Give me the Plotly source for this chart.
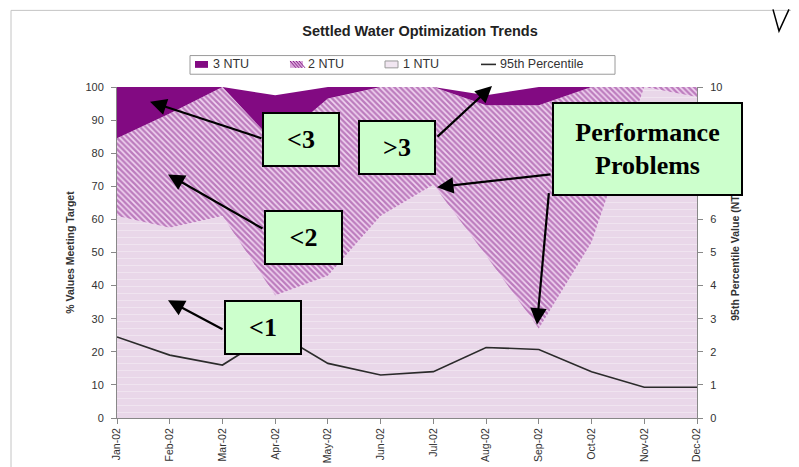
import plotly.graph_objects as go

months = ["Jan-02", "Feb-02", "Mar-02", "Apr-02", "May-02", "Jun-02",
          "Jul-02", "Aug-02", "Sep-02", "Oct-02", "Nov-02", "Dec-02"]
ntu1 = [61, 57.5, 61, 37, 43, 61, 70.5, 49, 27, 53, 100, 97]
ntu2 = [23.5, 34.5, 39, 46, 53.5, 39, 29.5, 45.5, 67.5, 47, 0, 3]
ntu3 = [15.5, 8, 0, 14.5, 3.5, 0, 0, 3, 5.5, 0, 0, 0]
p95 = [2.45, 1.9, 1.6, 2.6, 1.65, 1.3, 1.4, 2.13, 2.07, 1.4, 0.93, 0.93]
legend_labels = ["3 NTU", "2 NTU", "1 NTU", "95th Percentile"]

W, H = 799, 467
L, R, T, B = 109, 689, 79, 416

def px(x):
    return (x - L) / (R - L)

def py(y):
    return (B - y) / (B - T)

xs = list(range(len(months)))
font_sans = "Liberation Sans, Arial, sans-serif"
font_serif = "Liberation Serif, Times New Roman, serif"
DARK = "#820a82"
HATCH_FG = "#87228a"
LIGHT = "#e9d7e9"

fig = go.Figure()
fig.add_trace(go.Scatter(
    x=xs, y=ntu1, name=legend_labels[2], stackgroup="a", mode="none",
    fillcolor=LIGHT,
    fillpattern=dict(shape="-", fgcolor="rgba(255,255,255,0.75)", bgcolor=LIGHT,
                     size=7, solidity=0.12),
    showlegend=False, hoverinfo="skip"))
fig.add_trace(go.Scatter(
    x=xs, y=ntu2, name=legend_labels[1], stackgroup="a", mode="none",
    fillcolor="#c27ec2",
    fillpattern=dict(shape="\\", fgcolor=HATCH_FG, bgcolor="#f1d6f1",
                     size=4, solidity=0.6),
    showlegend=False, hoverinfo="skip"))
fig.add_trace(go.Scatter(
    x=xs, y=ntu3, name=legend_labels[0], stackgroup="a", mode="none",
    fillcolor=DARK, showlegend=False, hoverinfo="skip"))
fig.add_trace(go.Scatter(
    x=xs, y=p95, name=legend_labels[3], mode="lines", yaxis="y2",
    line=dict(color="#2b2b2b", width=1.6), showlegend=False, hoverinfo="skip"))

annotations = []
shapes = []

# outer chart border and scribble
shapes.append(dict(type="rect", xref="paper", yref="paper",
                   x0=px(3), x1=px(797), y0=py(475), y1=py(1),
                   line=dict(color="#c4c4c4", width=1), fillcolor="rgba(0,0,0,0)",
                   layer="below"))
shapes.append(dict(type="path", xref="paper", yref="paper",
                   path="M {:.4f},{:.4f} L {:.4f},{:.4f} L {:.4f},{:.4f}".format(
                       px(765), py(0), px(771), py(22), px(781), py(0)),
                   line=dict(color="black", width=1.5)))
shapes.append(dict(type="line", xref="paper", yref="paper",
                   x0=px(787), y0=py(0), x1=px(792), y1=py(10),
                   line=dict(color="black", width=1.2)))

# legend (drawn manually so spacing matches the original)
LEG_Y = 56
shapes.append(dict(type="rect", xref="paper", yref="paper",
                   x0=px(182), x1=px(607), y0=py(66), y1=py(47),
                   line=dict(color="#9a9a9a", width=1), fillcolor="white"))
sw = [(187, 200), (282, 295), (377, 390)]
shapes.append(dict(type="rect", xref="paper", yref="paper",
                   x0=px(sw[0][0]), x1=px(sw[0][1]), y0=py(LEG_Y + 3.5), y1=py(LEG_Y - 3.5),
                   line=dict(width=0), fillcolor=DARK))
shapes.append(dict(type="rect", xref="paper", yref="paper",
                   x0=px(sw[1][0]), x1=px(sw[1][1]), y0=py(LEG_Y + 3.5), y1=py(LEG_Y - 3.5),
                   line=dict(width=0), fillcolor="#d9a6d9"))
for k in range(4):
    x0 = sw[1][0] + 3 * k
    shapes.append(dict(type="line", xref="paper", yref="paper",
                       x0=px(x0), y0=py(LEG_Y - 3.5), x1=px(x0 + 6), y1=py(LEG_Y + 3.5),
                       line=dict(color=HATCH_FG, width=1)))
shapes.append(dict(type="rect", xref="paper", yref="paper",
                   x0=px(sw[2][0]), x1=px(sw[2][1]), y0=py(LEG_Y + 3.5), y1=py(LEG_Y - 3.5),
                   line=dict(color="#9a9a9a", width=1), fillcolor="#f1e6f1"))
shapes.append(dict(type="line", xref="paper", yref="paper",
                   x0=px(473), x1=px(488), y0=py(LEG_Y), y1=py(LEG_Y),
                   line=dict(color="#2b2b2b", width=1.6)))
for text, lx in zip(legend_labels, [203, 298, 393, 490]):
    annotations.append(dict(x=px(lx), y=py(LEG_Y), xref="paper", yref="paper",
                            xanchor="left", yanchor="middle", text=text, showarrow=False,
                            font=dict(family=font_sans, size=12.5, color="#333")))

# arrows (tail -> head)
arrows = [
    ((255, 131), (142, 94)),
    ((428, 130), (484, 78)),
    ((544, 168), (429, 181)),
    ((541, 188), (529, 321)),
    ((256, 223), (160, 168)),
    ((216, 326), (160, 296)),
]
for (tx, ty), (hx, hy) in arrows:
    annotations.append(dict(
        x=px(hx), y=py(hy), xref="paper", yref="paper",
        ax=tx - hx, ay=ty - hy, axref="pixel", ayref="pixel",
        text="", showarrow=True, arrowhead=2, arrowsize=1.5, arrowwidth=2.2,
        arrowcolor="black", standoff=0, startstandoff=0))

boxes = [
    ("&lt;3", 293.3, 132.5, 78, 55),
    ("&gt;3", 389.3, 140.5, 78, 55),
    ("Performance<br>Problems", 639.5, 142, 191, 94),
    ("&lt;2", 295.5, 232.5, 79, 55),
    ("&lt;1", 255, 323.5, 78, 55),
]
for text, cx, cy, bw, bh in boxes:
    annotations.append(dict(
        x=px(cx), y=py(cy), xref="paper", yref="paper",
        xanchor="center", yanchor="middle", text="<b>" + text + "</b>",
        showarrow=False, bgcolor="#ccffcc", bordercolor="black", borderwidth=2,
        borderpad=0, width=bw - 4, height=bh - 4,
        font=dict(family=font_serif, size=26, color="black")))

fig.update_layout(
    width=W, height=H,
    margin=dict(l=L, r=W - R, t=T, b=H - B),
    paper_bgcolor="white", plot_bgcolor="white",
    font=dict(family=font_sans, size=11, color="#333"),
    title=dict(text="<b>Settled Water Optimization Trends</b>", x=412 / W, xanchor="center",
               y=1 - 23 / H, yanchor="middle",
               font=dict(family=font_sans, size=14.5, color="#222")),
    showlegend=False,
    xaxis=dict(range=[0, 11], tickvals=xs, ticktext=months, tickangle=-90,
               showgrid=False, zeroline=False, showline=True, linecolor="#888",
               ticks="outside", ticklen=5, tickcolor="#888",
               tickfont=dict(size=10.5, color="#333")),
    yaxis=dict(range=[0, 100], dtick=10, showgrid=False, zeroline=False,
               showline=True, linecolor="#888", ticks="outside", ticklen=5,
               tickcolor="#888", tickfont=dict(size=11, color="#333"),
               ticklabelstandoff=5,
               title=dict(text="<b>% Values Meeting Target</b>", standoff=8,
                          font=dict(size=10.5, color="#333"))),
    yaxis2=dict(range=[0, 10], dtick=1, overlaying="y", side="right",
                showgrid=False, zeroline=False, showline=True, linecolor="#888",
                ticks="outside", ticklen=5, tickcolor="#888",
                tickfont=dict(size=11, color="#333"), ticklabelstandoff=5,
                title=dict(text="<b>95th Percentile Value (NTU)</b>", standoff=10,
                           font=dict(size=10.5, color="#333"))),
    annotations=annotations,
    shapes=shapes,
)

fig.write_html("out.html")
